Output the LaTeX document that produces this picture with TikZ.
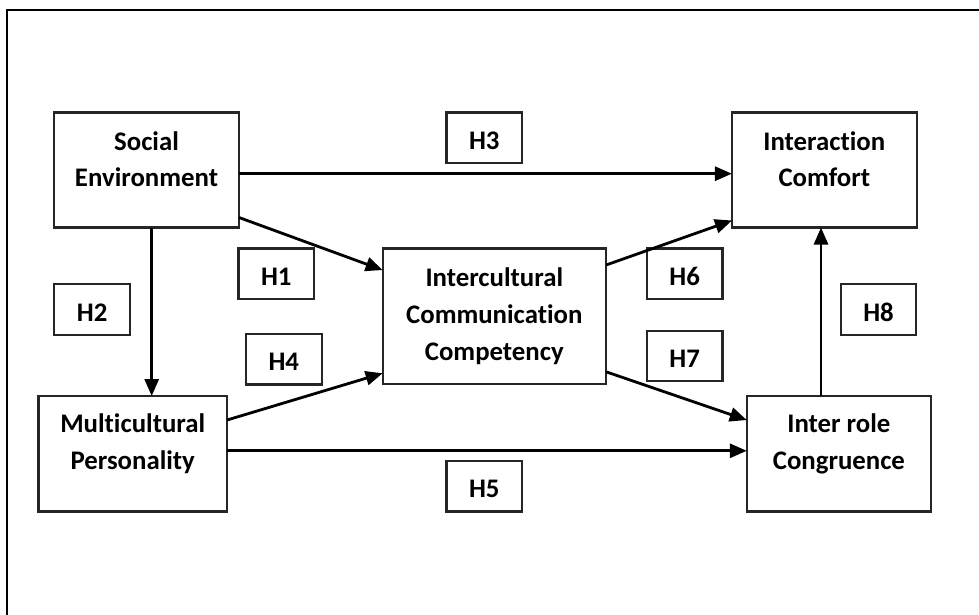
\documentclass[tikz,border=0pt]{standalone}
\usepackage{fontspec}
\setmainfont{Carlito}[Ligatures=NoCommon]
\usetikzlibrary{arrows.meta}
\begin{document}
\begin{tikzpicture}[x=1pt,y=-1pt,
  box/.style={draw=black!85,line width=2.2pt,inner sep=0pt,outer sep=0pt},
  bigbox/.style={box,minimum width=#1,minimum height=115pt},
  hbox/.style={box,minimum width=75.7pt,minimum height=50.7pt},
  lbl/.style={font=\fontsize{26.8}{36.7}\selectfont\bfseries,anchor=base,inner sep=0pt},
  arr/.style={line width=2.8pt,-{Triangle[length=17pt,width=14pt]}}]
\useasboundingbox (0,0) rectangle (979,615);
\draw[line width=2.4pt] (7,615) -- (7,10) -- (979,10);

% main boxes
\node[bigbox=185pt] (se) at (146.5,170) {};
\node[bigbox=184.7pt] (ic) at (824.3,170) {};
\node[box,minimum width=223.3pt,minimum height=135.7pt] (icc) at (494.3,316.4) {};
\node[bigbox=188.5pt,minimum height=115.5pt] (mp) at (132.7,453.8) {};
\node[bigbox=184.2pt,minimum height=115.5pt] (irc) at (838.9,453.8) {};

% texts
\node[lbl] (se1) at (146.5,150) {Social};
\node[lbl] (se2) at (146.5,186.7) {Environment};
\node[lbl] (ic1) at (824.3,150) {Interaction};
\node[lbl] (ic2) at (824.3,186.7) {Comfort};
\node[lbl] (icc1) at (494.3,286) {Intercultural};
\node[lbl] (icc2) at (494.3,323) {Communication};
\node[lbl] (icc3) at (494.3,360) {Competency};
\node[lbl] (mp1) at (132.7,432.7) {Multicultural};
\node[lbl] (mp2) at (132.7,469.7) {Personality};
\node[lbl] (irc1) at (838.9,432.5) {Inter role};
\node[lbl] (irc2) at (838.9,469.5) {Congruence};

% hypothesis boxes
\node[hbox] (h1) at (276.3,273.8) {};
\node[hbox] (h2) at (92.2,309.3) {};
\node[hbox] (h3) at (484.3,137.9) {};
\node[hbox] (h4) at (283.8,359.1) {};
\node[hbox] (h5) at (484.3,486.1) {};
\node[hbox] (h6) at (684.7,273.8) {};
\node[hbox] (h7) at (684.7,356) {};
\node[hbox] (h8) at (878.5,309.3) {};
\foreach \n in {1,...,8}{
  \node[lbl] (h\n t) at ([yshift=-11.8pt]h\n.center) {H\n};
}

% arrows
\draw[arr] ([yshift=-3.7pt]se.east) -- ([yshift=-3.7pt]ic.west);
\draw[arr] ([yshift=10pt]se.south east) -- ([yshift=-21.5pt]icc.north west);
\coordinate (s2) at ([xshift=5.2pt]se.south);
\draw[arr] (s2) -- (s2 |- mp.north);
\draw[arr] ([yshift=-24pt]mp.north east) -- ([yshift=11pt]icc.south west);
\draw[arr] ([yshift=3pt]mp.east) -- ([yshift=3pt]irc.west);
\draw[arr] ([yshift=-16.5pt]icc.north east) -- ([yshift=7pt]ic.south west);
\draw[arr] ([yshift=12.5pt]icc.south east) -- ([yshift=-24pt]irc.north west);
\coordinate (s8) at ([xshift=-17.9pt]irc.north);
\draw[arr] (s8) -- (s8 |- ic.south);
\end{tikzpicture}
\end{document}
